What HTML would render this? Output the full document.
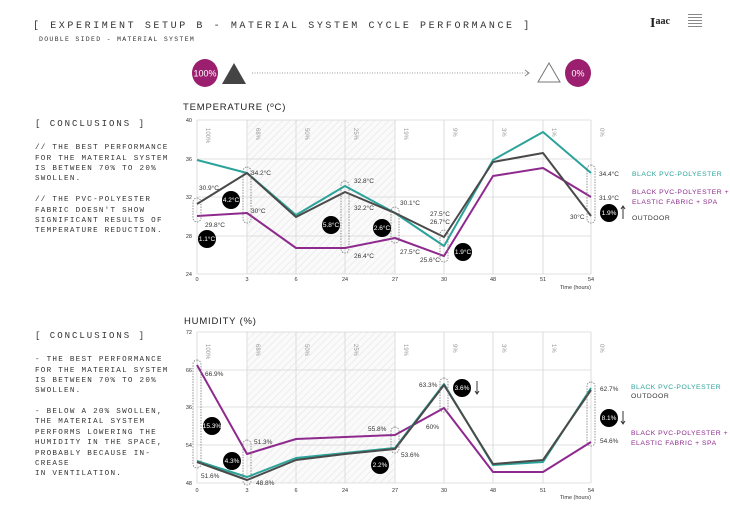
<!DOCTYPE html>
<html><head><meta charset="utf-8"><style>
html,body{margin:0;padding:0;background:#fff;}
svg{display:block;font-family:"Liberation Mono",monospace;}
.t{font-family:"Liberation Sans",sans-serif;}
</style></head><body>
<svg width="730" height="516" viewBox="0 0 730 516" xmlns="http://www.w3.org/2000/svg">
<defs>
<pattern id="h" width="5" height="5" patternUnits="userSpaceOnUse" patternTransform="rotate(45)">
<rect width="5" height="5" fill="#fafafa"/><line x1="0" y1="0" x2="0" y2="5" stroke="#e2e2e2" stroke-width="1"/></pattern>
</defs>
<!-- Header -->
<text x="33" y="28" font-size="10" letter-spacing="2.6" fill="#333">[ EXPERIMENT SETUP  B - MATERIAL SYSTEM CYCLE PERFORMANCE ]</text>
<text x="39" y="41" font-size="6.5" letter-spacing="1.3" fill="#333">DOUBLE SIDED - MATERIAL SYSTEM</text>
<text x="650" y="27" font-size="14" font-weight="bold" font-family="Liberation Serif,serif" fill="#222">I<tspan font-size="10" dy="-3">aac</tspan></text>
<g fill="#888"><rect x="688" y="14" width="14" height="1"/><rect x="688" y="17" width="14" height="1"/><rect x="688" y="20" width="14" height="1"/><rect x="688" y="23" width="14" height="1"/><rect x="688" y="26" width="14" height="1"/></g>
<ellipse cx="205" cy="73" rx="13" ry="14" fill="#9b1f6e"/>
<text x="205" y="76.5" font-size="9" fill="#fff" text-anchor="middle" class="t">100%</text>
<polygon points="234,63 222,84 246,84" fill="#444"/>
<line x1="252" y1="73" x2="528" y2="73" stroke="#999" stroke-dasharray="1,1.5"/>
<polyline points="525,70 529,73 525,76" fill="none" stroke="#888"/>
<polygon points="549,63 538,82 560,82" fill="#fff" stroke="#777"/>
<ellipse cx="578" cy="73" rx="13" ry="14" fill="#9b1f6e"/>
<text x="578" y="76.5" font-size="9" fill="#fff" text-anchor="middle" class="t">0%</text>

<!-- Left text -->
<g font-size="7.6" letter-spacing="1.25" fill="#333">
<text x="35" y="126" font-size="9" letter-spacing="2">[ CONCLUSIONS ]</text>
<text x="35" y="149">// THE BEST PERFORMANCE</text>
<text x="35" y="160">FOR THE MATERIAL SYSTEM</text>
<text x="35" y="170">IS BETWEEN 70% TO 20%</text>
<text x="35" y="180">SWOLLEN.</text>
<text x="35" y="201">// THE PVC-POLYESTER</text>
<text x="35" y="212">FABRIC DOESN'T SHOW</text>
<text x="35" y="222">SIGNIFICANT RESULTS OF</text>
<text x="35" y="232">TEMPERATURE REDUCTION.</text>
<text x="35" y="338" font-size="9" letter-spacing="2">[ CONCLUSIONS ]</text>
<text x="35" y="361">- THE BEST PERFORMANCE</text>
<text x="35" y="372">FOR THE MATERIAL SYSTEM</text>
<text x="35" y="382">IS BETWEEN 70% TO 20%</text>
<text x="35" y="392">SWOLLEN.</text>
<text x="35" y="413">- BELOW A 20% SWOLLEN,</text>
<text x="35" y="423">THE MATERIAL SYSTEM</text>
<text x="35" y="434">PERFORMS LOWERING THE</text>
<text x="35" y="444">HUMIDITY IN THE SPACE,</text>
<text x="35" y="455">PROBABLY BECAUSE IN-</text>
<text x="35" y="465">CREASE</text>
<text x="35" y="475">IN VENTILATION.</text>
</g>

<!-- TEMPERATURE CHART -->
<text x="183" y="110" font-size="9.5" letter-spacing="0.8" fill="#222" class="t">TEMPERATURE (ºC)</text>
<rect x="247" y="120" width="148" height="154" fill="url(#h)"/>
<g stroke="#d6d6d6" stroke-width="0.8">
<line x1="197" y1="120" x2="591" y2="120"/><line x1="197" y1="159" x2="591" y2="159"/><line x1="197" y1="197" x2="591" y2="197"/><line x1="197" y1="236" x2="591" y2="236"/><line x1="197" y1="274" x2="591" y2="274"/>
<line x1="197" y1="120" x2="197" y2="274"/><line x1="247" y1="120" x2="247" y2="274"/><line x1="296" y1="120" x2="296" y2="274"/><line x1="345" y1="120" x2="345" y2="274"/><line x1="395" y1="120" x2="395" y2="274"/><line x1="444" y1="120" x2="444" y2="274"/><line x1="493" y1="120" x2="493" y2="274"/><line x1="543" y1="120" x2="543" y2="274"/><line x1="591" y1="120" x2="591" y2="274"/>
</g>
<g font-size="5.5" fill="#333" class="t" text-anchor="end">
<text x="192" y="122">40</text><text x="192" y="161">36</text><text x="192" y="199">32</text><text x="192" y="238">28</text><text x="192" y="276">24</text></g>
<g font-size="5.5" fill="#333" class="t" text-anchor="middle">
<text x="197" y="281">0</text><text x="247" y="281">3</text><text x="296" y="281">6</text><text x="345" y="281">24</text><text x="395" y="281">27</text><text x="444" y="281">30</text><text x="493" y="281">48</text><text x="543" y="281">51</text><text x="591" y="281">54</text></g>
<text x="560" y="289" font-size="5.5" fill="#333" class="t">Time (hours)</text>
<g font-size="6" fill="#999" class="t">
<text transform="translate(206,128) rotate(90)">100%</text><text transform="translate(256,128) rotate(90)">68%</text><text transform="translate(305,128) rotate(90)">50%</text><text transform="translate(354,128) rotate(90)">25%</text><text transform="translate(404,128) rotate(90)">19%</text><text transform="translate(453,128) rotate(90)">9%</text><text transform="translate(502,128) rotate(90)">3%</text><text transform="translate(552,128) rotate(90)">1%</text><text transform="translate(600,128) rotate(90)">0%</text></g>
<g fill="none" stroke-width="2" stroke-linejoin="round">
<polyline stroke="#8e2a8e" points="197,216 247,213 296,248 345,248 395,238 444,256 493,176 543,168 591,197"/>
<polyline stroke="#2ba39a" points="197,160 247,173 296,215 345,186 395,213 444,246 493,160 543,132 591,173"/>
<polyline stroke="#4a4a4a" points="197,204 247,173 296,217 345,192 395,213 444,237 493,162 543,153 591,216"/>
</g>
<g fill="none" stroke="#777" stroke-dasharray="1.5,1.2" stroke-width="0.8">
<rect x="193" y="198" width="8" height="24" rx="4"/><rect x="243" y="167" width="8" height="56" rx="4"/><rect x="341" y="181" width="8" height="72" rx="4"/><rect x="391" y="207" width="8" height="36" rx="4"/><rect x="440" y="230" width="8" height="32" rx="4"/><rect x="587" y="165" width="8" height="58" rx="4"/>
</g>
<g font-size="6.5" fill="#333" class="t">
<text x="199" y="190">30.9°C</text><text x="205" y="227">29.8°C</text><text x="251" y="175">34.2°C</text><text x="251" y="213">30°C</text><text x="354" y="183">32.8°C</text><text x="354" y="210">32.2°C</text><text x="354" y="258">26.4°C</text><text x="400" y="205">30.1°C</text><text x="400" y="254">27.5°C</text><text x="430" y="216">27.5°C</text><text x="430" y="224">26.7°C</text><text x="420" y="262">25.6°C</text>
<text x="599" y="176">34.4°C</text><text x="599" y="200">31.9°C</text><text x="570" y="219">30°C</text></g>
<g fill="#000"><circle cx="231" cy="200" r="9"/><circle cx="207" cy="239" r="9"/><circle cx="331" cy="225" r="9"/><circle cx="382" cy="228" r="9"/><circle cx="463" cy="252" r="9"/><circle cx="609" cy="213" r="9"/></g>
<g font-size="6.5" fill="#fff" class="t" text-anchor="middle">
<text x="231" y="202">4.2°C</text><text x="207" y="241">1.1°C</text><text x="331" y="227">5.8°C</text><text x="382" y="230">2.6°C</text><text x="463" y="254">1.9°C</text><text x="609" y="215">1.9%</text></g>
<line x1="623" y1="219" x2="623" y2="206" stroke="#333"/><polyline points="621,209 623,206 625,209" fill="none" stroke="#333"/>
<g font-size="6.8" letter-spacing="0.5" class="t">
<text x="632" y="176" fill="#2ba39a">BLACK PVC-POLYESTER</text>
<text x="632" y="194" fill="#8e2a8e">BLACK PVC-POLYESTER +</text>
<text x="632" y="204" fill="#8e2a8e">ELASTIC FABRIC + SPA</text>
<text x="632" y="220" fill="#333">OUTDOOR</text></g>

<!-- HUMIDITY CHART -->
<text x="184" y="324" font-size="9.5" letter-spacing="0.8" fill="#222" class="t">HUMIDITY (%)</text>
<rect x="247" y="332" width="148" height="151" fill="url(#h)"/>
<g stroke="#d6d6d6" stroke-width="0.8">
<line x1="197" y1="332" x2="591" y2="332"/><line x1="197" y1="370" x2="591" y2="370"/><line x1="197" y1="407" x2="591" y2="407"/><line x1="197" y1="445" x2="591" y2="445"/><line x1="197" y1="483" x2="591" y2="483"/>
<line x1="197" y1="332" x2="197" y2="483"/><line x1="247" y1="332" x2="247" y2="483"/><line x1="296" y1="332" x2="296" y2="483"/><line x1="345" y1="332" x2="345" y2="483"/><line x1="395" y1="332" x2="395" y2="483"/><line x1="444" y1="332" x2="444" y2="483"/><line x1="493" y1="332" x2="493" y2="483"/><line x1="543" y1="332" x2="543" y2="483"/><line x1="591" y1="332" x2="591" y2="483"/>
</g>
<g font-size="5.5" fill="#333" class="t" text-anchor="end">
<text x="192" y="334">72</text><text x="192" y="372">66</text><text x="192" y="409">36</text><text x="192" y="447">54</text><text x="192" y="485">48</text></g>
<g font-size="5.5" fill="#333" class="t" text-anchor="middle">
<text x="197" y="492">0</text><text x="247" y="492">3</text><text x="296" y="492">6</text><text x="345" y="492">24</text><text x="395" y="492">27</text><text x="444" y="492">30</text><text x="493" y="492">48</text><text x="543" y="492">51</text><text x="591" y="492">54</text></g>
<text x="560" y="499" font-size="5.5" fill="#333" class="t">Time (hours)</text>
<g font-size="6" fill="#999" class="t">
<text transform="translate(206,344) rotate(90)">100%</text><text transform="translate(256,344) rotate(90)">68%</text><text transform="translate(305,344) rotate(90)">50%</text><text transform="translate(354,344) rotate(90)">25%</text><text transform="translate(404,344) rotate(90)">19%</text><text transform="translate(453,344) rotate(90)">9%</text><text transform="translate(502,344) rotate(90)">3%</text><text transform="translate(552,344) rotate(90)">1%</text><text transform="translate(600,344) rotate(90)">0%</text></g>
<g fill="none" stroke-width="2" stroke-linejoin="round">
<polyline stroke="#8e2a8e" points="197,365 247,454 296,439 345,437 395,435 444,408 493,472 543,472 591,442"/>
<polyline stroke="#2ba39a" points="197,461 247,477 296,458 345,453 395,448 444,384 493,465 543,462 591,388"/>
<polyline stroke="#4a4a4a" points="197,462 247,480 296,460 345,454 395,449 444,385 493,464 543,460 591,390"/>
</g>
<g fill="none" stroke="#777" stroke-dasharray="1.5,1.2" stroke-width="0.8">
<rect x="193" y="360" width="8" height="108" rx="4"/><rect x="243" y="440" width="8" height="45" rx="4"/><rect x="391" y="427" width="8" height="26" rx="4"/><rect x="440" y="378" width="8" height="34" rx="4"/><rect x="587" y="382" width="8" height="64" rx="4"/>
</g>
<g font-size="6.5" fill="#333" class="t">
<text x="205" y="376">66.9%</text><text x="201" y="478">51.6%</text><text x="254" y="444">51.3%</text><text x="256" y="485">48.8%</text><text x="368" y="431">55.8%</text><text x="401" y="457">53.6%</text><text x="419" y="387">63.3%</text><text x="426" y="429">60%</text><text x="600" y="391">62.7%</text><text x="600" y="443">54.6%</text></g>
<g fill="#000"><circle cx="212" cy="426" r="9"/><circle cx="232" cy="461" r="9"/><circle cx="380" cy="465" r="9"/><circle cx="462" cy="388" r="9"/><circle cx="609" cy="418" r="9"/></g>
<g font-size="6.5" fill="#fff" class="t" text-anchor="middle">
<text x="212" y="428">15.3%</text><text x="232" y="463">4.3%</text><text x="380" y="467">2.2%</text><text x="462" y="390">3.6%</text><text x="609" y="420">8.1%</text></g>
<line x1="477" y1="381" x2="477" y2="394" stroke="#333"/><polyline points="475,391 477,394 479,391" fill="none" stroke="#333"/>
<line x1="623" y1="411" x2="623" y2="424" stroke="#333"/><polyline points="621,421 623,424 625,421" fill="none" stroke="#333"/>
<g font-size="6.8" letter-spacing="0.5" class="t">
<text x="631" y="389" fill="#2ba39a">BLACK PVC-POLYESTER</text>
<text x="631" y="398" fill="#333">OUTDOOR</text>
<text x="631" y="435" fill="#8e2a8e">BLACK PVC-POLYESTER +</text>
<text x="631" y="445" fill="#8e2a8e">ELASTIC FABRIC + SPA</text></g>
</svg>
</body></html>
